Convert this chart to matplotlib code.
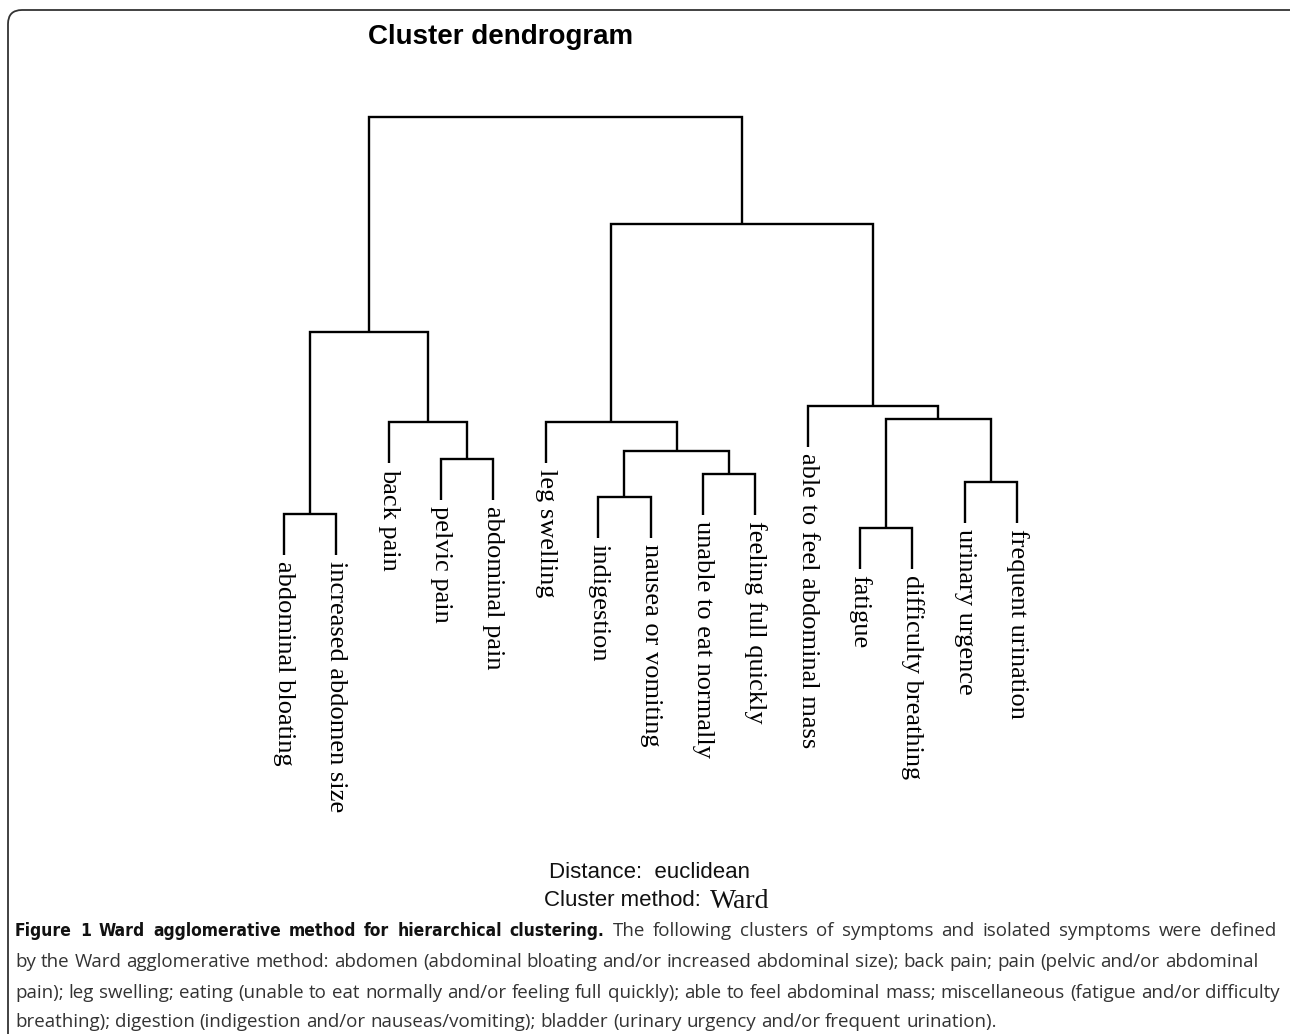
import matplotlib
matplotlib.use("Agg")
import matplotlib.pyplot as plt
from matplotlib.patches import FancyBboxPatch
from matplotlib.transforms import IdentityTransform
from matplotlib import font_manager
from matplotlib.font_manager import FontProperties

# ---------------- data ----------------
leaf_labels = [
    "abdominal bloating", "increased abdomen size", "back pain", "pelvic pain",
    "abdominal pain", "leg swelling", "indigestion", "nausea or vomiting",
    "unable to eat normally", "feeling full quickly", "able to feel abdominal mass",
    "fatigue", "difficulty breathing", "urinary urgence", "frequent urination",
]
# merges (ids 0-14 are leaves, 15+ are clusters formed in this order)
merge_left = [0, 3, 2, 15, 6, 8, 19, 5, 11, 13, 23, 10, 22, 18]
merge_right = [1, 4, 16, 17, 7, 9, 20, 21, 12, 14, 24, 25, 26, 27]
merge_height = [0.46, 1.01, 1.38, 2.28, 0.63, 0.86, 1.09, 1.38, 0.32, 0.78,
                1.41, 1.54, 3.36, 4.43]
hang = 0.41

title_text = "Cluster dendrogram"
distance_text = "Distance:  euclidean"
method_text = "Cluster method:"
method_name = "Ward"
caption_bold = "Figure 1 Ward agglomerative method for hierarchical clustering."
caption_lines = [
    "The following clusters of symptoms and isolated symptoms were defined",
    "by the Ward agglomerative method: abdomen (abdominal bloating and/or increased abdominal size); back pain; pain (pelvic and/or abdominal",
    "pain); leg swelling; eating (unable to eat normally and/or feeling full quickly); able to feel abdominal mass; miscellaneous (fatigue and/or difficulty",
    "breathing); digestion (indigestion and/or nauseas/vomiting); bladder (urinary urgency and/or frequent urination).",
]

# ---------------- figure ----------------
W, H = 1290, 1034
fig = plt.figure(figsize=(W / 100, H / 100), dpi=100)
fig.patch.set_facecolor("white")

def fx(px):
    return px / W

def fy(py):
    return 1 - py / H

# dendrogram axes: x -> leaf index, y -> merge height
ax_left_px, ax_right_px = 231.6, 1069.4
ax_top_px, ax_bot_px = 100, 600
ax = fig.add_axes([fx(ax_left_px), fy(ax_bot_px),
                   (ax_right_px - ax_left_px) / W, (ax_bot_px - ax_top_px) / H])
ax.set_xlim(-1, 15)
ax.set_ylim(-0.4, 4.6)
ax.axis("off")

n = len(leaf_labels)
node_x = {i: float(i) for i in range(n)}
node_h = {}
lw = 1.7
for k, (a, b, h) in enumerate(zip(merge_left, merge_right, merge_height)):
    xa, xb = node_x[a], node_x[b]
    ya = node_h.get(a, h - hang)
    yb = node_h.get(b, h - hang)
    ax.plot([xa, xa, xb, xb], [ya, h, h, yb], color="black", lw=lw,
            solid_joinstyle="miter", solid_capstyle="butt")
    if a < n:
        node_h[a] = ya
    if b < n:
        node_h[b] = yb
    new_id = n + k
    node_x[new_id] = (xa + xb) / 2
    node_h[new_id] = h

for i, lab in enumerate(leaf_labels):
    ax.annotate(lab, xy=(node_x[i], node_h[i]), xytext=(0, -4),
                textcoords="offset points", rotation=270, ha="center", va="top",
                fontsize=19, family="Liberation Serif", color="black")

# title and method text
fig.text(fx(368), fy(37), title_text, ha="left", va="center", fontsize=20,
         fontweight="bold", family="Liberation Sans", color="black")
fig.text(fx(549), fy(872), distance_text, ha="left", va="center", fontsize=16,
         family="Liberation Sans", color="#111111")
fig.text(fx(544), fy(900), method_text, ha="left", va="center", fontsize=16,
         family="Liberation Sans", color="#111111")
fig.text(fx(710), fy(902), method_name, ha="left", va="center", fontsize=20,
         family="Liberation Serif", color="#111111")

# ---------------- caption (justified lines) ----------------
renderer = fig.canvas.get_renderer()

def text_width(s, prop):
    t = fig.text(0, 0, s, fontproperties=prop)
    w = t.get_window_extent(renderer).width
    t.remove()
    return w

norm_prop = FontProperties(family="Open Sans", size=13)
cap_fs = 13 * (1236 / text_width(caption_lines[1], norm_prop))
norm_prop.set_size(cap_fs)

cond = ("condensed", "semi-condensed", "extra-condensed", "ultra-condensed")
cands = []
for f in font_manager.fontManager.ttflist:
    w = f.weight if isinstance(f.weight, int) else (700 if "bold" in str(f.weight) else 400)
    narrow = (str(f.stretch) in cond or "Narrow" in f.name or "Condensed" in f.name
              or "Cond" in f.fname)
    if narrow and w >= 600 and f.style == "normal" and "Mono" not in f.name \
            and "Serif" not in f.name:
        cands.append(f)
if cands:
    bold_prop = FontProperties(fname=cands[0].fname)
else:
    bold_prop = FontProperties(family="Roboto", weight="bold")
bold_prop.set_size(cap_fs * 0.93)

def place_line(segments, x0, ypx, right=None):
    words = []
    for txt, prop, col in segments:
        for wd in txt.split(" "):
            if wd:
                words.append((wd, prop, col))
    arts = []
    widths = []
    for wd, prop, col in words:
        t = fig.text(0, fy(ypx), wd, fontproperties=prop, color=col,
                     ha="left", va="center")
        arts.append(t)
        widths.append(t.get_window_extent(renderer).width)
    space = text_width("a b", norm_prop) - text_width("ab", norm_prop)
    if right is not None and len(words) > 1:
        gap = (right - x0 - sum(widths)) / (len(words) - 1)
    else:
        gap = space
    x = x0
    for t, w in zip(arts, widths):
        t.set_x(x / W)
        x += w + gap

cap_x = 15
line_y = [931, 962, 993, 1022]
line_right = [1276, 1258, 1280, None]
dark, grey = "#111111", "#333333"
place_line([(caption_bold, bold_prop, dark), (caption_lines[0], norm_prop, grey)],
           cap_x, line_y[0], line_right[0])
for ln, yy, rr in zip(caption_lines[1:], line_y[1:], line_right[1:]):
    place_line([(ln, norm_prop, grey)], cap_x, yy, rr)

# rounded border
border = FancyBboxPatch((8, -20), 1320, H - 10 + 20,
                        boxstyle="round,pad=0,rounding_size=14",
                        transform=IdentityTransform(), fill=False,
                        edgecolor="#333333", linewidth=1.3)
fig.add_artist(border)

fig.savefig("out.png", dpi=100)
